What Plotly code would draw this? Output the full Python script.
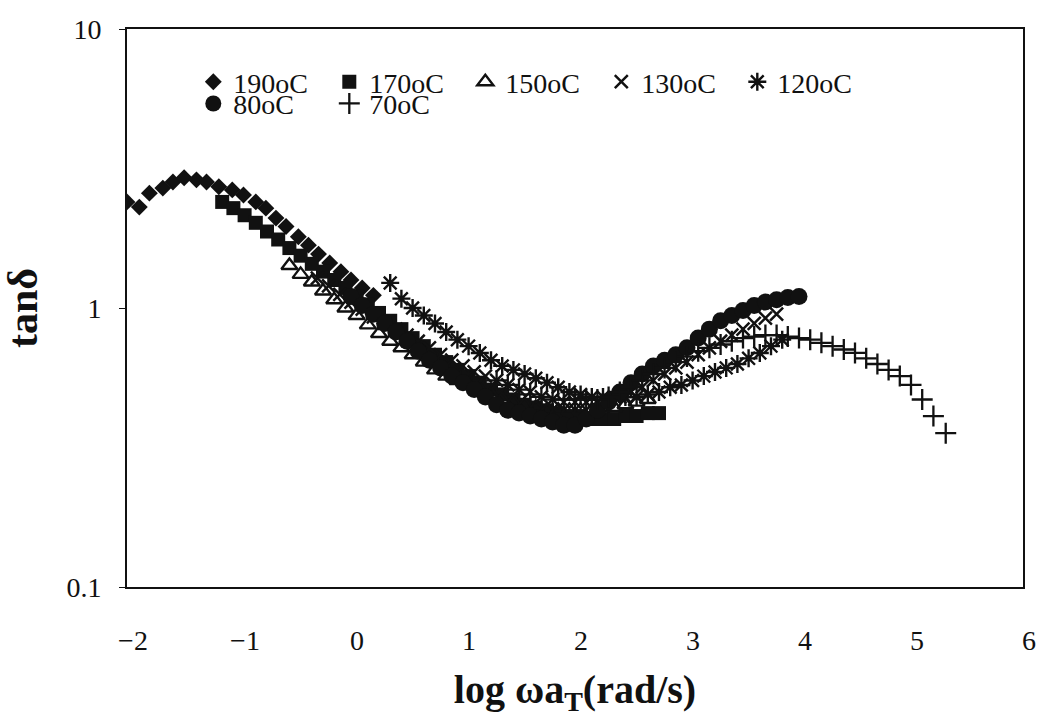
import plotly.graph_objects as go

# ---------------- data ----------------
series_names = ["190oC", "170oC", "150oC", "130oC", "120oC", "80oC", "70oC"]

x_190 = [-2.00, -1.89, -1.80, -1.68, -1.59, -1.49, -1.38, -1.29, -1.18, -1.06, -0.96,
         -0.85, -0.76, -0.67, -0.58, -0.47, -0.38, -0.29, -0.19, -0.09, 0.00, 0.10, 0.20]
y_190 = [2.40, 2.30, 2.58, 2.69, 2.83, 2.93, 2.88, 2.83, 2.72, 2.65, 2.54,
         2.40, 2.28, 2.10, 1.96, 1.80, 1.68, 1.56, 1.45, 1.35, 1.26, 1.18, 1.11]

x_170 = [-1.15, -1.05, -0.95, -0.85, -0.75, -0.65, -0.55, -0.45, -0.35, -0.25, -0.15,
         -0.05, 0.05, 0.15, 0.25, 0.35, 0.45, 0.55, 0.65, 0.75, 0.85, 0.95, 1.05, 1.15,
         1.25, 1.35, 1.45, 1.55, 1.65, 1.75, 1.85, 1.95, 2.05, 2.15, 2.25, 2.35, 2.45,
         2.55, 2.65, 2.75]
y_170 = [2.40, 2.28, 2.15, 2.02, 1.88, 1.76, 1.64, 1.54, 1.44, 1.35, 1.26,
         1.18, 1.10, 1.03, 0.96, 0.90, 0.84, 0.78, 0.73, 0.68, 0.64, 0.60, 0.57, 0.54,
         0.51, 0.49, 0.47, 0.45, 0.44, 0.43, 0.42, 0.41, 0.41, 0.40, 0.40, 0.40, 0.41,
         0.41, 0.42, 0.42]

x_150 = [-0.55, -0.45, -0.35, -0.25, -0.15, -0.05, 0.05, 0.15, 0.25, 0.35, 0.45,
         0.55, 0.65, 0.75, 0.85, 0.95, 1.05, 1.15, 1.25, 1.35, 1.45, 1.55, 1.65,
         1.75, 1.85, 1.95, 2.05, 2.15, 2.25, 2.35, 2.45, 2.55, 2.65]
y_150 = [1.42, 1.32, 1.24, 1.15, 1.07, 1.00, 0.94, 0.87, 0.81, 0.76, 0.72,
         0.68, 0.64, 0.60, 0.57, 0.55, 0.53, 0.51, 0.49, 0.47, 0.46, 0.45, 0.44,
         0.43, 0.43, 0.43, 0.43, 0.43, 0.44, 0.44, 0.45, 0.46, 0.47]

x_130 = [-0.30, -0.20, -0.10, 0.00, 0.10, 0.20, 0.30, 0.40, 0.50, 0.60, 0.70, 0.80,
         0.90, 1.00, 1.10, 1.20, 1.30, 1.40, 1.50, 1.60, 1.70, 1.80, 1.90, 2.00,
         2.10, 2.20, 2.30, 2.40, 2.50, 2.60, 2.70, 2.80, 2.90, 3.00, 3.10, 3.20,
         3.30, 3.40, 3.50, 3.60, 3.70, 3.80]
y_130 = [1.28, 1.20, 1.12, 1.05, 0.99, 0.93, 0.88, 0.84, 0.80, 0.76, 0.72, 0.68,
         0.65, 0.62, 0.59, 0.57, 0.55, 0.53, 0.51, 0.50, 0.48, 0.47, 0.46, 0.46,
         0.46, 0.46, 0.47, 0.48, 0.50, 0.52, 0.55, 0.58, 0.61, 0.64, 0.68, 0.72,
         0.76, 0.80, 0.84, 0.88, 0.92, 0.95]

x_120 = [0.35, 0.45, 0.55, 0.65, 0.75, 0.85, 0.95, 1.05, 1.15, 1.25, 1.35, 1.45,
         1.55, 1.65, 1.75, 1.85, 1.95, 2.05, 2.15, 2.25, 2.35, 2.45, 2.55, 2.65,
         2.75, 2.85, 2.95, 3.05, 3.15, 3.25, 3.35, 3.45, 3.55, 3.65, 3.75, 3.85]
y_120 = [1.23, 1.08, 1.00, 0.94, 0.88, 0.82, 0.77, 0.73, 0.69, 0.65, 0.62, 0.60,
         0.58, 0.56, 0.54, 0.52, 0.50, 0.49, 0.48, 0.48, 0.48, 0.48, 0.48, 0.49,
         0.50, 0.52, 0.53, 0.55, 0.57, 0.59, 0.61, 0.63, 0.66, 0.69, 0.73, 0.77]

x_80 = [0.00, 0.10, 0.20, 0.30, 0.40, 0.50, 0.60, 0.70, 0.80, 0.90, 1.00, 1.10,
        1.20, 1.30, 1.40, 1.50, 1.60, 1.70, 1.80, 1.90, 2.00, 2.10, 2.20, 2.30,
        2.40, 2.50, 2.60, 2.70, 2.80, 2.90, 3.00, 3.10, 3.20, 3.30, 3.40, 3.50,
        3.60, 3.70, 3.80, 3.90, 4.00]
y_80 = [1.10, 1.02, 0.95, 0.88, 0.82, 0.76, 0.70, 0.65, 0.61, 0.57, 0.54, 0.51,
        0.48, 0.45, 0.43, 0.42, 0.41, 0.40, 0.39, 0.38, 0.38, 0.40, 0.43, 0.46,
        0.50, 0.54, 0.58, 0.62, 0.65, 0.68, 0.72, 0.78, 0.84, 0.90, 0.94, 0.98,
        1.02, 1.05, 1.07, 1.09, 1.10]

x_70 = [1.30, 1.40, 1.50, 1.60, 1.70, 1.80, 1.90, 2.00, 2.10, 2.20, 2.30, 2.40,
        2.50, 2.60, 2.70, 2.80, 2.90, 3.00, 3.10, 3.20, 3.30, 3.40, 3.50, 3.60,
        3.70, 3.80, 3.90, 4.00, 4.10, 4.20, 4.30, 4.40, 4.50, 4.60, 4.70, 4.80,
        4.90, 5.00, 5.10, 5.20, 5.31]
y_70 = [0.55, 0.53, 0.51, 0.49, 0.48, 0.47, 0.47, 0.47, 0.47, 0.47, 0.48, 0.50,
        0.52, 0.55, 0.58, 0.61, 0.64, 0.67, 0.70, 0.72, 0.74, 0.76, 0.78, 0.79,
        0.80, 0.80, 0.79, 0.78, 0.77, 0.75, 0.73, 0.71, 0.69, 0.66, 0.63, 0.60,
        0.57, 0.53, 0.47, 0.41, 0.356]

x_tick_vals = [-2, -1, 0, 1, 2, 3, 4, 5, 6]
x_tick_text = ["\u22122", "\u22121", "0", "1", "2", "3", "4", "5", "6"]
y_tick_vals = [0.1, 1, 10]
y_tick_text = ["0.1", "1", "10"]

# ---------------- styling ----------------
FONT = "Liberation Serif"
BLACK = "#111111"

styles = {
    "190oC": dict(symbol="diamond", size=13, color=BLACK, line=dict(width=0)),
    "170oC": dict(symbol="square", size=14, color=BLACK, line=dict(width=0)),
    "150oC": dict(symbol="triangle-up-open", size=14, color=BLACK, line=dict(width=2.4, color=BLACK)),
    "130oC": dict(symbol="x-thin-open", size=13, color=BLACK, line=dict(width=2.5, color=BLACK)),
    "120oC": dict(symbol="asterisk-open", size=15, color=BLACK, line=dict(width=2.4, color=BLACK)),
    "80oC": dict(symbol="circle", size=17, color=BLACK, line=dict(width=0)),
    "70oC": dict(symbol="cross-thin-open", size=15, color=BLACK, line=dict(width=2.3, color=BLACK)),
}

data = {
    "190oC": (x_190, y_190),
    "170oC": (x_170, y_170),
    "150oC": (x_150, y_150),
    "130oC": (x_130, y_130),
    "120oC": (x_120, y_120),
    "80oC": (x_80, y_80),
    "70oC": (x_70, y_70),
}
legend_of = {"190oC": "legend", "170oC": "legend", "150oC": "legend", "130oC": "legend",
             "120oC": "legend", "80oC": "legend2", "70oC": "legend2"}

fig = go.Figure()
for name in series_names:
    xs, ys = data[name]
    fig.add_trace(go.Scatter(
        x=xs, y=ys, mode="markers", name=name,
        marker=styles[name], legend=legend_of[name],
    ))

legend_common = dict(
    orientation="h", xanchor="left", yanchor="middle",
    font=dict(family=FONT, size=28, color=BLACK),
    bgcolor="rgba(0,0,0,0)", borderwidth=0,
    entrywidth=91, entrywidthmode="pixels", itemwidth=30,
    traceorder="normal",
)

fig.update_layout(
    width=1048, height=726,
    margin=dict(l=127, r=15, t=29, b=139),
    paper_bgcolor="white", plot_bgcolor="white",
    font=dict(family=FONT, color=BLACK),
    legend=dict(x=0.074, y=0.905, **legend_common),
    legend2=dict(x=0.074, y=0.866, **legend_common),
    xaxis=dict(
        range=[-2, 6], tickvals=x_tick_vals, ticktext=x_tick_text,
        showgrid=False, zeroline=False, showline=True, linecolor=BLACK, linewidth=2,
        mirror=True, ticks="", ticklabelstandoff=27, ticklabelshift=6,
        tickfont=dict(family=FONT, size=28, color=BLACK),
        title=dict(text="log \u03c9a<sub>T</sub>(rad/s)", standoff=20,
                   font=dict(family=FONT, size=40, color=BLACK, weight="bold")),
    ),
    yaxis=dict(
        type="log", range=[-1, 1], tickvals=y_tick_vals, ticktext=y_tick_text,
        showgrid=False, zeroline=False, showline=True, linecolor=BLACK, linewidth=2,
        mirror=True, ticks="outside", ticklen=6, tickwidth=1, tickcolor=BLACK,
        ticklabelstandoff=12,
        tickfont=dict(family=FONT, size=28, color=BLACK),
        title=dict(text="tan\u03b4", standoff=16,
                   font=dict(family=FONT, size=42, color=BLACK, weight="bold")),
    ),
)

fig.write_html("out.html")
